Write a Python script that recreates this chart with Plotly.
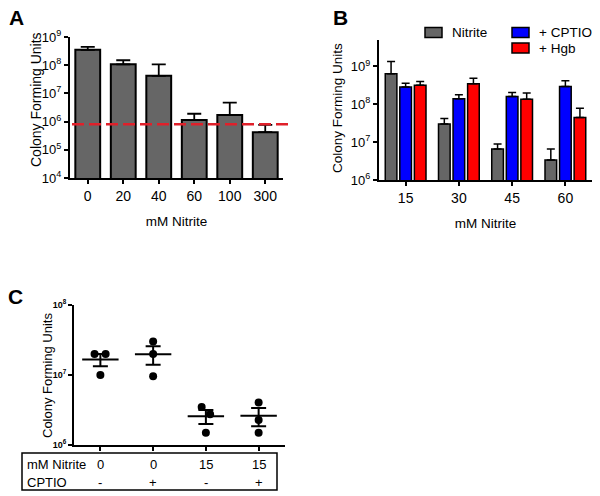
import numpy as np
import plotly.graph_objects as go

# ---------------- data ----------------
A_CATS = ["0", "20", "40", "60", "100", "300"]
A_CFU = [3.5e8, 1.07e8, 4.2e7, 1.15e6, 1.7e6, 4.2e5]
A_ERR_UP = [1.0e8, 4.3e7, 6.5e7, 7.5e5, 3.0e6, 3.4e5]
A_LIMIT = 8.0e5

B_CATS = ["15", "30", "45", "60"]
B_NITRITE = [6.4e8, 3.0e7, 6.6e6, 3.4e6]
B_NITRITE_ERR = [7.1e8, 1.2e7, 2.4e6, 3.2e6]
B_CPTIO = [2.85e8, 1.4e8, 1.6e8, 2.95e8]
B_CPTIO_ERR = [7.5e7, 4.0e7, 4.5e7, 1.25e8]
B_HGB = [3.2e8, 3.5e8, 1.37e8, 4.5e7]
B_HGB_ERR = [8.0e7, 1.4e8, 6.3e7, 3.4e7]
B_SERIES = ["Nitrite", "+ CPTIO", "+ Hgb"]

C_NITRITE_ROW = ["0", "0", "15", "15"]
C_CPTIO_ROW = ["-", "+", "-", "+"]
C_POINTS = [
    [2.0e7, 2.0e7, 1.0e7],
    [3.0e7, 2.0e7, 9.6e6],
    [3.5e6, 2.75e6, 1.5e6],
    [4.06e6, 2.28e6, 1.5e6],
]

Y_TITLE = "Colony Forming Units"
X_TITLE = "mM Nitrite"
TICKS_A = [1e4, 1e5, 1e6, 1e7, 1e8, 1e9]
TICKTEXT_A = ["10<sup>4</sup>", "10<sup>5</sup>", "10<sup>6</sup>", "10<sup>7</sup>", "10<sup>8</sup>", "10<sup>9</sup>"]
TICKS_B = [1e6, 1e7, 1e8, 1e9]
TICKTEXT_B = ["10<sup>6</sup>", "10<sup>7</sup>", "10<sup>8</sup>", "10<sup>9</sup>"]
TICKS_C = [1e6, 1e7, 1e8]
TICKTEXT_C = ["10<sup>6</sup>", "10<sup>7</sup>", "10<sup>8</sup>"]

# ---------------- style ----------------
W, H = 600, 496
PAGE_OFFSET = 8  # default body margin of the html page
FONT = "Arial, Liberation Sans, sans-serif"
B_COLORS = ["#666666", "#0000ff", "#ff0000"]
JITTER = [[-0.11, 0.10, 0.0], [0.0, 0.0, 0.0], [-0.08, 0.08, 0.0], [0.0, 0.0, 0.0]]


def px_x(p):
    return (p - PAGE_OFFSET) / W


def px_y(p):
    return 1 - (p - PAGE_OFFSET) / H


fig = go.Figure()

# Panel A
fig.add_trace(go.Bar(
    x=A_CATS, y=A_CFU, xaxis="x", yaxis="y", width=0.7,
    marker=dict(color="#666666", line=dict(color="black", width=2)),
    error_y=dict(type="data", symmetric=False, array=A_ERR_UP, arrayminus=[0] * len(A_CFU),
                 color="black", thickness=1.8, width=7),
    showlegend=False,
))

# Panel B
for name, vals, errs, col in zip(B_SERIES, [B_NITRITE, B_CPTIO, B_HGB],
                                 [B_NITRITE_ERR, B_CPTIO_ERR, B_HGB_ERR], B_COLORS):
    fig.add_trace(go.Bar(
        x=B_CATS, y=vals, name=name, xaxis="x2", yaxis="y2", showlegend=False,
        marker=dict(color=col, line=dict(color="black", width=1.5)),
        error_y=dict(type="data", symmetric=False, array=errs, arrayminus=[0] * len(vals),
                     color="black", thickness=1.5, width=4),
    ))

# Panel C
for i, pts in enumerate(C_POINTS):
    fig.add_trace(go.Scatter(
        x=[i + j for j in JITTER[i]], y=pts, mode="markers", xaxis="x3", yaxis="y3",
        marker=dict(color="black", size=8), showlegend=False,
    ))
    arr = np.array(pts)
    mean = arr.mean()
    sem = arr.std(ddof=1) / np.sqrt(len(arr))
    fig.add_trace(go.Scatter(
        x=[i], y=[mean], mode="markers", xaxis="x3", yaxis="y3",
        marker=dict(symbol="line-ew-open", size=26, color="black", line=dict(color="black", width=2)),
        error_y=dict(type="data", array=[sem], color="black", thickness=2, width=7.5),
        showlegend=False,
    ))

axis_common = dict(showline=True, linecolor="black", linewidth=2, ticks="outside",
                   tickcolor="black", tickwidth=2, ticklen=4, showgrid=False, zeroline=False,
                   mirror=False, automargin=False)

fig.update_layout(
    width=W, height=H, margin=dict(l=0, r=0, t=0, b=0, autoexpand=False),
    paper_bgcolor="white", plot_bgcolor="white",
    font=dict(family=FONT, color="black", size=13),
    barmode="group", bargap=0.18, bargroupgap=0.2, showlegend=False,
    xaxis=dict(domain=[px_x(70), px_x(283)], anchor="y", range=[-0.5, 5.5],
               tickfont=dict(size=14),
               title=dict(text=X_TITLE, font=dict(size=13.5), standoff=14), **axis_common),
    yaxis=dict(domain=[px_y(178), px_y(37)], anchor="x", type="log", range=[4, 9],
               tickvals=TICKS_A, ticktext=TICKTEXT_A, tickfont=dict(size=13), **axis_common),
    xaxis2=dict(domain=[px_x(379), px_x(592)], anchor="y2", range=[-0.5, 3.5],
                tickfont=dict(size=14),
                title=dict(text=X_TITLE, font=dict(size=13.5), standoff=14), **axis_common),
    yaxis2=dict(domain=[px_y(180), px_y(40)], anchor="x2", type="log", range=[6, 9.7],
                tickvals=TICKS_B, ticktext=TICKTEXT_B, tickfont=dict(size=13), **axis_common),
    xaxis3=dict(domain=[px_x(74), px_x(285)], anchor="y3", range=[-0.5, 3.5],
                tickvals=[0, 1, 2, 3], showticklabels=False, **axis_common),
    yaxis3=dict(domain=[px_y(445), px_y(305)], anchor="x3", type="log", range=[6, 8],
                tickvals=TICKS_C, ticktext=TICKTEXT_C, tickfont=dict(size=9, weight="bold"),
                **axis_common),
)

# y-axis titles
for tx, ty, fs in [(36, 100, 14), (337, 108, 13.5), (47, 376, 13)]:
    fig.add_annotation(text=Y_TITLE, xref="paper", yref="paper", x=px_x(tx), y=px_y(ty),
                       xanchor="center", yanchor="middle", textangle=-90, showarrow=False,
                       font=dict(size=fs))

# detection limit line in A
fig.add_shape(type="line", xref="paper", yref="y", x0=px_x(72), x1=px_x(288), y0=A_LIMIT, y1=A_LIMIT,
              line=dict(color="#e0202a", width=2.5, dash="12px,5px"), layer="above")

# legend for B (swatches + labels)
LEG_POS = [(425, 32.5), (512, 32.5), (512, 48)]
for name, col, (lx, ly) in zip(B_SERIES, B_COLORS, LEG_POS):
    fig.add_shape(type="rect", xref="paper", yref="paper", x0=px_x(lx), x1=px_x(lx + 17),
                  y0=px_y(ly + 5), y1=px_y(ly - 5), fillcolor=col, line=dict(color="black", width=1.5))
    fig.add_annotation(text=name, xref="paper", yref="paper", x=px_x(lx + 25), y=px_y(ly),
                       xanchor="left", yanchor="middle", showarrow=False, font=dict(size=13.5))

# table under C
fig.add_shape(type="rect", xref="paper", yref="paper", x0=px_x(22), x1=px_x(277),
              y0=px_y(490), y1=px_y(453), line=dict(color="black", width=1.5))
fig.add_annotation(text="mM Nitrite", xref="paper", yref="paper", x=px_x(25), y=px_y(464),
                   xanchor="left", yanchor="middle", showarrow=False, font=dict(size=13))
fig.add_annotation(text="CPTIO", xref="paper", yref="paper", x=px_x(25), y=px_y(482),
                   xanchor="left", yanchor="middle", showarrow=False, font=dict(size=13))
for i, (n, c) in enumerate(zip(C_NITRITE_ROW, C_CPTIO_ROW)):
    fig.add_annotation(text=n, xref="x3", yref="paper", x=i, y=px_y(464), showarrow=False,
                       xanchor="center", yanchor="middle", font=dict(size=13))
    fig.add_annotation(text=c, xref="x3", yref="paper", x=i, y=px_y(482), showarrow=False,
                       xanchor="center", yanchor="middle", font=dict(size=13))

# panel letters
for letter, lx, ly in [("A", 16, 17), ("B", 340, 17), ("C", 15, 296)]:
    fig.add_annotation(text="<b>%s</b>" % letter, xref="paper", yref="paper", x=px_x(lx), y=px_y(ly),
                       xanchor="center", yanchor="middle", showarrow=False, font=dict(size=21))

fig.write_html("out.html")
